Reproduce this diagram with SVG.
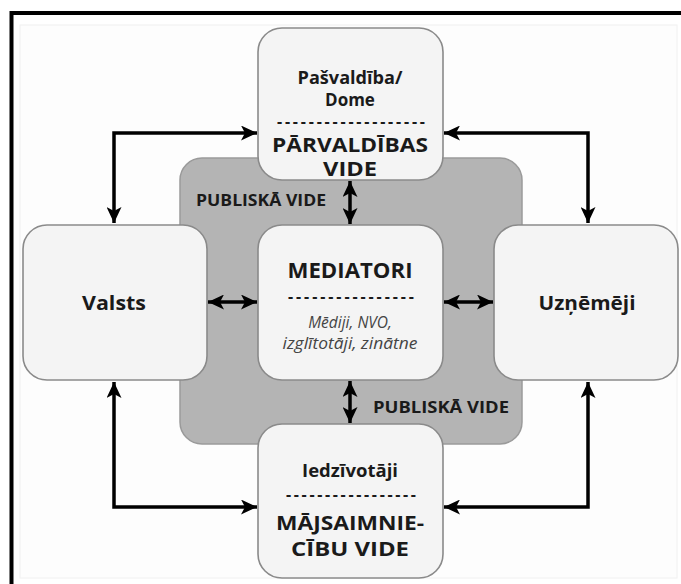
<svg xmlns="http://www.w3.org/2000/svg" width="681" height="584" viewBox="0 0 681 584">
<style>
.node{fill:#f4f4f4;stroke:#8a8a8a;stroke-width:1.6}
.t{font-family:"Open Sans","Liberation Sans",sans-serif;font-weight:bold;fill:#1a1a1a;text-anchor:middle}
.it{font-family:"Open Sans","Liberation Sans",sans-serif;font-style:italic;fill:#444;text-anchor:middle;font-size:15.5px}
.con{fill:none;stroke:#000;stroke-width:3.5;marker-start:url(#ah);marker-end:url(#ah)}
</style>
<defs>
<marker id="ah" markerUnits="userSpaceOnUse" markerWidth="17" markerHeight="15" refX="16" refY="7.5" orient="auto-start-reverse">
<path d="M0,0 L16,7.5 L0,15 L4,7.5 Z" fill="#000"/>
</marker>
</defs>
<rect x="0" y="0" width="681" height="584" fill="#fff"/>
<rect x="20" y="25" width="657" height="553" fill="#fdfdfd" stroke="#f0f0f0"/>
<path d="M11.5,584 V13 H681" fill="none" stroke="#000" stroke-width="4"/>
<rect id="publiska" x="180" y="158" width="342" height="286" rx="22" fill="#b4b4b4" stroke="#9a9a9a" stroke-width="1.5"/>
<g id="connectors">
<path class="con" d="M114,223 V133 H257"/>
<path class="con" d="M444,133 H588 V223"/>
<path class="con" d="M114,382 V507 H257"/>
<path class="con" d="M444,507 H588 V382"/>
<path class="con" d="M208,302 H257"/>
<path class="con" d="M444,302 H493"/>
<path class="con" d="M350,181 V224"/>
<path class="con" d="M350,381 V423"/>
</g>
<g id="pvlabels">
<text class="t" x="261" y="206" font-size="16" textLength="130" lengthAdjust="spacingAndGlyphs">PUBLISKĀ VIDE</text>
<text class="t" x="441" y="413" font-size="16" textLength="136" lengthAdjust="spacingAndGlyphs">PUBLISKĀ VIDE</text>
</g>
<g id="pasvaldiba">
<rect class="node" x="258" y="28" width="185" height="152" rx="24"/>
<text class="t" x="350" y="84" font-size="17" textLength="105" lengthAdjust="spacingAndGlyphs">Pašvaldība/</text>
<text class="t" x="350" y="106" font-size="17">Dome</text>
<text class="t" x="351" y="127" font-size="16" textLength="148" lengthAdjust="spacing">-------------------</text>
<text class="t" x="350" y="152" font-size="19" textLength="156" lengthAdjust="spacingAndGlyphs">PĀRVALDĪBAS</text>
<text class="t" x="350" y="176" font-size="19" textLength="54" lengthAdjust="spacingAndGlyphs">VIDE</text>
</g>
<g id="valsts">
<rect class="node" x="23" y="225" width="184" height="155" rx="24"/>
<text class="t" x="114" y="310" font-size="19" textLength="64" lengthAdjust="spacingAndGlyphs">Valsts</text>
</g>
<g id="mediatori">
<rect class="node" x="258" y="225" width="185" height="155" rx="24"/>
<text class="t" x="350" y="278" font-size="21" textLength="125" lengthAdjust="spacingAndGlyphs">MEDIATORI</text>
<text class="t" x="351" y="302" font-size="16" textLength="126" lengthAdjust="spacing">----------------</text>
<text class="it" x="350" y="328">Mēdiji, NVO,</text>
<text class="it" x="350" y="349" textLength="135" lengthAdjust="spacingAndGlyphs">izglītotāji, zinātne</text>
</g>
<g id="uznemeji">
<rect class="node" x="494" y="225" width="184" height="155" rx="24"/>
<text class="t" x="587" y="310" font-size="19" textLength="97" lengthAdjust="spacingAndGlyphs">Uzņēmēji</text>
</g>
<g id="iedzivotaji">
<rect class="node" x="258" y="424" width="185" height="154" rx="24"/>
<text class="t" x="350" y="477" font-size="17" textLength="96" lengthAdjust="spacingAndGlyphs">Iedzīvotāji</text>
<text class="t" x="351" y="500" font-size="16" textLength="130" lengthAdjust="spacing">-----------------</text>
<text class="t" x="350" y="530" font-size="20" textLength="148" lengthAdjust="spacingAndGlyphs">MĀJSAIMNIE-</text>
<text class="t" x="350" y="556" font-size="20" textLength="118" lengthAdjust="spacingAndGlyphs">CĪBU VIDE</text>
</g>
</svg>
